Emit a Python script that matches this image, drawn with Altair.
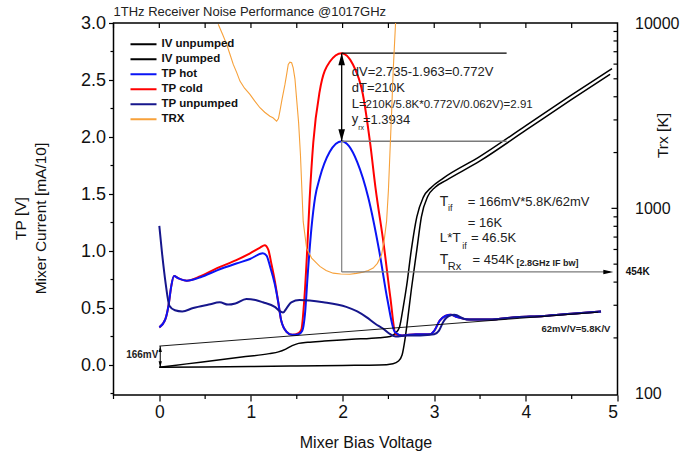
import altair as alt
import pandas as pd

# ---------------- data ----------------
series_names = ["IV unpumped", "IV pumped", "TP hot", "TP cold", "TP unpumped", "TRX"]
series_colors = ["#000000", "#000000", "#0a14f5", "#ff0000", "#16168c", "#f7a13a"]

iv_un_x = [0.00, 0.50, 1.00, 1.50, 2.00, 2.40, 2.55, 2.61, 2.65, 2.68, 2.71, 2.75, 2.81, 2.86,
           2.93, 3.01, 3.13, 3.50, 4.00, 4.50, 4.92]
iv_un_y = [-0.02, -0.018, -0.014, -0.009, -0.004, 0.00, 0.012, 0.035, 0.09, 0.22, 0.40, 0.66, 1.01,
           1.30, 1.48, 1.56, 1.62, 1.79, 2.06, 2.33, 2.55]

iv_p_x = [0.00, 0.30, 0.60, 0.90, 1.20, 1.30, 1.38, 1.45, 1.52, 1.62, 1.80, 2.10, 2.40, 2.52,
          2.57, 2.62, 2.66, 2.70, 2.75, 2.81, 2.88, 2.97, 3.10, 3.50, 4.00, 4.50, 4.94]
iv_p_y = [-0.02, 0.01, 0.04, 0.07, 0.10, 0.115, 0.14, 0.17, 0.19, 0.20, 0.21, 0.225, 0.24, 0.25,
          0.275, 0.33, 0.50, 0.70, 1.01, 1.30, 1.47, 1.56, 1.64, 1.83, 2.10, 2.37, 2.60]

tp_cold_x = [0.00, 0.065, 0.10, 0.13, 0.16, 0.21, 0.30, 0.45, 0.63, 0.84, 0.99, 1.10, 1.15, 1.19,
             1.22, 1.26, 1.30, 1.33, 1.39, 1.45, 1.52, 1.55, 1.58, 1.61, 1.64, 1.68, 1.75, 1.86,
             1.99, 2.11, 2.22, 2.30, 2.36, 2.45, 2.52, 2.58, 2.65, 2.80, 2.95, 3.00, 3.06, 3.12,
             3.18, 3.25, 3.38, 3.60, 3.90, 4.20, 4.50, 4.82]
tp_cold_y = [0.33, 0.40, 0.52, 0.69, 0.78, 0.76, 0.74, 0.78, 0.85, 0.92, 0.98, 1.03, 1.05, 1.01,
             0.90, 0.74, 0.54, 0.39, 0.29, 0.265, 0.28, 0.31, 0.55, 0.95, 1.45, 1.95, 2.40, 2.66,
             2.735, 2.64, 2.38, 1.95, 1.55, 1.05, 0.60, 0.27, 0.26, 0.27, 0.27, 0.30, 0.39, 0.43,
             0.44, 0.42, 0.40, 0.40, 0.42, 0.43, 0.45, 0.47]

tp_hot_x = [0.00, 0.065, 0.10, 0.13, 0.16, 0.21, 0.30, 0.45, 0.63, 0.84, 0.99, 1.13, 1.17, 1.21,
            1.26, 1.30, 1.33, 1.39, 1.45, 1.52, 1.56, 1.59, 1.62, 1.66, 1.70, 1.75, 1.86, 1.99,
            2.07, 2.16, 2.28, 2.40, 2.49, 2.57, 2.65, 2.80, 2.95, 3.00, 3.06, 3.12, 3.18, 3.25,
            3.38, 3.60, 3.90, 4.20, 4.50, 4.82]
tp_hot_y = [0.33, 0.40, 0.52, 0.69, 0.78, 0.76, 0.74, 0.77, 0.83, 0.89, 0.93, 0.98, 0.96, 0.86,
            0.71, 0.54, 0.39, 0.29, 0.265, 0.27, 0.30, 0.45, 0.80, 1.20, 1.47, 1.64, 1.87, 1.963,
            1.92, 1.78, 1.47, 1.00, 0.57, 0.29, 0.26, 0.27, 0.27, 0.30, 0.39, 0.43, 0.44, 0.42,
            0.40, 0.40, 0.42, 0.43, 0.45, 0.47]

tp_un_x = [0.00, 0.03, 0.07, 0.11, 0.17, 0.25, 0.37, 0.54, 0.66, 0.75, 0.83, 0.95, 1.05, 1.13,
           1.26, 1.32, 1.35, 1.39, 1.44, 1.53, 1.79, 2.04, 2.16, 2.26, 2.36, 2.44, 2.52, 2.58,
           2.70, 2.85, 3.00, 3.05, 3.10, 3.16, 3.22, 3.35, 3.60, 3.90, 4.20, 4.50, 4.82]
tp_un_y = [1.22, 0.98, 0.71, 0.52, 0.48, 0.47, 0.50, 0.53, 0.55, 0.53, 0.54, 0.58, 0.57, 0.55,
           0.51, 0.47, 0.46, 0.50, 0.55, 0.57, 0.55, 0.51, 0.47, 0.42, 0.36, 0.32, 0.27, 0.25,
           0.26, 0.26, 0.27, 0.30, 0.38, 0.43, 0.44, 0.40, 0.40, 0.42, 0.43, 0.45, 0.47]

trx_x = [0.643, 0.69, 0.735, 0.77, 0.807, 0.845, 0.88, 0.93, 0.989, 1.04, 1.098, 1.15, 1.207,
         1.24, 1.28, 1.30, 1.316, 1.34, 1.371, 1.39, 1.407, 1.425, 1.444, 1.461, 1.48, 1.50,
         1.52, 1.54, 1.57, 1.607, 1.662, 1.752, 1.82, 1.897, 1.98, 2.08, 2.15, 2.225, 2.28,
         2.334, 2.38, 2.425, 2.455, 2.48, 2.50, 2.516, 2.535, 2.552, 2.578]
trx_t = [9840, 8700, 7670, 6800, 5980, 5400, 4860, 4450, 4120, 3800, 3490, 3300, 3140, 3080,
         2950, 3050, 3345, 3900, 4660, 5300, 5980, 6150, 6100, 5730, 5000, 3800, 2900, 1950,
         850, 610, 539, 486, 462, 447, 442, 441, 446, 453, 462, 476, 505, 562, 680, 850, 1250,
         1950, 3300, 5500, 10000]

# annotation values
v_peak_x = 1.99
v_cold, v_hot = 2.735, 1.963
fit_b, fit_m, fit_end = 0.166, 0.062, 4.79
trx_min = 454
gray_bottom = 0.815
line_end = 3.79

# ---------------- layout / styles ----------------
W, H = 504, 372
FONT = "Liberation Sans"
xs = alt.Scale(domain=[-0.5, 5.0], nice=False, zero=False)
ys = alt.Scale(domain=[-0.263, 3.0], nice=False, zero=False)
ts = alt.Scale(type="log", domain=[98.4, 10000], nice=False)

x_axis = alt.Axis(values=[0, 1, 2, 3, 4, 5], format="d", tickSize=6, labelPadding=2,
                  labelFontSize=17.5, title="Mixer Bias Voltage", titleFontSize=16,
                  titleX=252, titleY=47, titleBaseline="middle", titleAlign="center")
y_axis = alt.Axis(values=[0, 0.5, 1.0, 1.5, 2.0, 2.5, 3.0], format=".1f", tickSize=5,
                  labelPadding=3, labelFontSize=18, title=["TP [V]", "Mixer Current [mA/10]"],
                  titleFontSize=15.5, titleAngle=270, titleAlign="center", titleBaseline="top",
                  titleX=-100, titleY=195, titleLineHeight=20)
t_axis = alt.Axis(orient="right", values=[100, 1000, 10000], format="d", ticks=False,
                  labelPadding=17, labelFontSize=16, title="Trx [K]", titleFontSize=15.5,
                  titleAngle=270, titleAlign="center", titleBaseline="middle",
                  titleX=45, titleY=112)

legend = alt.Legend(title=None, orient="none", legendX=16, legendY=14, symbolType="stroke",
                    symbolSize=676, symbolStrokeWidth=2, labelFont=FONT, labelFontWeight="bold",
                    labelFontSize=11.5, labelColor="#111", rowPadding=0, clipHeight=14.6,
                    padding=0, labelOffset=4)
color = alt.Color("series:N", scale=alt.Scale(domain=series_names, range=series_colors),
                  legend=legend)


def X(field="x"):
    return alt.X(f"{field}:Q", scale=xs, axis=x_axis)


def Y(field="y"):
    return alt.Y(f"{field}:Q", scale=ys, axis=y_axis)


def T(field="T"):
    return alt.Y(f"{field}:Q", scale=ts, axis=t_axis)


def line(xv, yv, name, width):
    df = pd.DataFrame({"x": xv, "y": yv, "series": name})
    return alt.Chart(df).mark_line(strokeWidth=width, interpolate="monotone").encode(
        x=X(), y=Y(), color=color)


left_layers = [
    line(iv_un_x, iv_un_y, "IV unpumped", 1.5),
    line(iv_p_x, iv_p_y, "IV pumped", 1.5),
    line(tp_cold_x, tp_cold_y, "TP cold", 2),
    line(tp_hot_x, tp_hot_y, "TP hot", 2),
    line(tp_un_x, tp_un_y, "TP unpumped", 2),
]

# annotation segments (left scale)
seg = pd.DataFrame({
    "x": [v_peak_x, v_peak_x, v_peak_x, v_peak_x, 0.0, 0.01],
    "x2": [line_end, line_end, v_peak_x, v_peak_x, fit_end, 0.01],
    "y": [v_cold, v_hot, v_hot, gray_bottom, fit_b, -0.02],
    "y2": [v_cold, v_hot, v_cold, v_hot, fit_b + fit_m * fit_end, fit_b],
    "c": ["#000000", "#7a7a7a", "#000000", "#8a8a8a", "#000000", "#000000"],
    "w": [1.3, 1.6, 1.3, 1.3, 0.9, 1.0],
})
left_layers.append(
    alt.Chart(seg).mark_rule().encode(
        x=X(), x2="x2:Q", y=Y(), y2="y2:Q",
        color=alt.Color("c:N", scale=None), strokeWidth=alt.StrokeWidth("w:Q", scale=None))
)

UP = "M0,-1L0.55,1L-0.55,1Z"
DOWN = "M0,1L0.55,-1L-0.55,-1Z"
heads = pd.DataFrame({
    "x": [v_peak_x, v_peak_x, 0.01, 0.01],
    "y": [v_cold - 0.053, v_hot + 0.053, fit_b - 0.026, -0.02 + 0.026],
    "shape": [UP, DOWN, UP, DOWN],
    "s": [144, 144, 36, 36],
})
left_layers.append(
    alt.Chart(heads).mark_point(filled=True, color="black", opacity=1, strokeWidth=0).encode(
        x=X(), y=Y(),
        shape=alt.Shape("shape:N", scale=None), size=alt.Size("s:Q", scale=None))
)

# minor / inward ticks
left_minor = pd.DataFrame({"y": [-0.25, 0.25, 0.75, 1.25, 1.75, 2.25, 2.75]})
left_layers.append(alt.Chart(left_minor).mark_rule(color="black", strokeWidth=1.2).encode(
    y=Y(), x=alt.value(-3), x2=alt.value(0)))
bottom_minor = pd.DataFrame({"x": [-0.5, 0.5, 1.5, 2.5, 3.5, 4.5]})
left_layers.append(alt.Chart(bottom_minor).mark_rule(color="black", strokeWidth=1.2).encode(
    x=X(), y=alt.value(H), y2=alt.value(H + 4)))
top_ticks = pd.DataFrame({"x": [-0.5, 0, 0.5, 1, 1.5, 2, 2.5, 3, 3.5, 4, 4.5]})
left_layers.append(alt.Chart(top_ticks).mark_rule(color="black", strokeWidth=1.2).encode(
    x=X(), y=alt.value(0), y2=alt.value(5)))

# text annotations
texts = pd.DataFrame({
    "t": ["dV=2.735-1.963=0.772V", "dT=210K", "L=", "210K/5.8K*0.772V/0.062V)=2.91", "y", "rx",
          "=1.3934", "T", "if", "= 166mV*5.8K/62mV", "= 16K", "L*T", "if", "= 46.5K", "T", "Rx",
          "= 454K"],
    "x": [2.10, 2.10, 2.10, 2.25, 2.10, 2.17, 2.222, 3.06, 3.15, 3.366, 3.366, 3.06, 3.306,
          3.40, 3.06, 3.148, 3.418],
    "y": [2.573, 2.427, 2.289, 2.28, 2.158, 2.082, 2.149, 1.43, 1.38, 1.432, 1.248, 1.111, 1.045,
          1.111, 0.921, 0.86, 0.921],
    "fs": [13, 13, 13, 11.5, 13, 7, 13, 14, 9, 13, 13, 13.5, 9, 13, 14, 11, 13],
})
left_layers.append(alt.Chart(texts).mark_text(align="left", baseline="middle", font=FONT,
                                               color="#222").encode(
    x=X(), y=Y(), text="t:N", size=alt.Size("fs:Q", scale=None)))

bold_texts = pd.DataFrame({
    "t": ["[2.8GHz IF bw]", "62mV/V=5.8K/V"],
    "x": [3.898, 4.17],
    "y": [0.895, 0.316],
    "fs": [9, 9.5],
})
left_layers.append(alt.Chart(bold_texts).mark_text(align="left", baseline="middle", font=FONT,
                                                    fontWeight="bold", color="#222").encode(
    x=X(), y=Y(), text="t:N", size=alt.Size("fs:Q", scale=None)))
mv_text = pd.DataFrame({"t": ["166mV"], "x": [-0.01], "y": [0.088]})
left_layers.append(alt.Chart(mv_text).mark_text(align="right", baseline="middle", font=FONT,
                                                 fontWeight="bold", fontSize=10, color="#222").encode(
    x=X(), y=Y(), text="t:N"))

left = alt.layer(*left_layers)

# ---------------- right (Trx, log) ----------------
trx_df = pd.DataFrame({"x": trx_x, "T": trx_t, "series": "TRX"})
right_layers = [
    alt.Chart(trx_df).mark_line(strokeWidth=1.1, interpolate="linear", clip=True).encode(
        x=X(), y=T(), color=color)
]
arrow454 = pd.DataFrame({"x": [v_peak_x], "x2": [4.92], "T": [trx_min]})
right_layers.append(alt.Chart(arrow454).mark_rule(color="#7a7a7a", strokeWidth=1.3).encode(
    x=X(), x2="x2:Q", y=T()))
head454 = pd.DataFrame({"x": [4.90], "T": [trx_min]})
right_layers.append(alt.Chart(head454).mark_point(
    filled=True, color="black", opacity=1, strokeWidth=0, size=100,
    shape="M1,0L-1,0.45L-1,-0.45Z").encode(x=X(), y=T()))
lab454 = pd.DataFrame({"x": [5.09], "T": [trx_min], "t": ["454K"]})
right_layers.append(alt.Chart(lab454).mark_text(align="left", baseline="middle", font=FONT,
                                                 fontWeight="bold", fontSize=10, color="#111").encode(
    x=X(), y=T(), text="t:N"))

major_t = pd.DataFrame({"T": [1000]})
minor_t = pd.DataFrame({"T": [200, 300, 400, 500, 600, 700, 800, 900,
                              2000, 3000, 4000, 5000, 6000, 7000, 8000, 9000]})
right_layers.append(alt.Chart(major_t).mark_rule(color="black", strokeWidth=1.2).encode(
    y=T(), x=alt.value(W - 6), x2=alt.value(W)))
right_layers.append(alt.Chart(minor_t).mark_rule(color="black", strokeWidth=1.2).encode(
    y=T(), x=alt.value(W - 4), x2=alt.value(W)))

right = alt.layer(*right_layers)

chart = alt.layer(left, right).resolve_scale(y="independent").properties(
    width=W, height=H,
    autosize=alt.AutoSizeParams(type="none"),
    padding={"left": 113.5, "top": 23, "right": 66.5, "bottom": 66},
    background="white",
    title=alt.TitleParams("1THz Receiver Noise Performance @1017GHz", anchor="start",
                          frame="group", font=FONT, fontSize=13, fontWeight="normal",
                          color="#222", offset=5, dy=10),
).configure_view(stroke="black", strokeWidth=1.5).configure_axis(
    domain=False, grid=False, labelFont=FONT, titleFont=FONT, labelColor="#111",
    titleColor="#111", tickColor="black", tickWidth=1.2, titleFontWeight="normal"
)

chart.save("out.html", embed_options={"renderer": "svg", "actions": False})
